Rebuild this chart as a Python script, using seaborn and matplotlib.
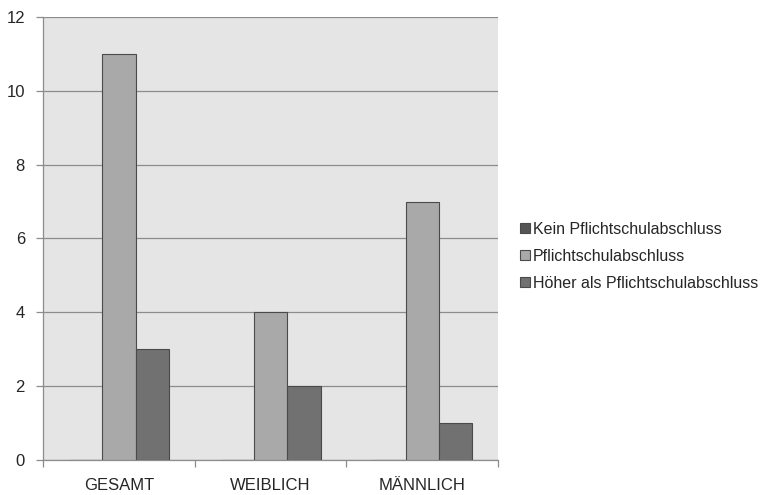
import numpy as np
import pandas as pd
import matplotlib.pyplot as plt
import seaborn as sns

# data
groups = ['GESAMT', 'WEIBLICH', 'MÄNNLICH']
series = ['Kein Pflichtschulabschluss', 'Pflichtschulabschluss', 'Höher als Pflichtschulabschluss']
kein = [0, 0, 0]
pflicht = [11, 4, 7]
hoeher = [3, 2, 1]
yticks = [0, 2, 4, 6, 8, 10, 12]

df = pd.DataFrame({
    'gruppe': groups * 3,
    'abschluss': [series[0]] * 3 + [series[1]] * 3 + [series[2]] * 3,
    'wert': kein + pflicht + hoeher,
})

sns.set_style('white')
plt.rcParams['font.family'] = ['Liberation Sans', 'DejaVu Sans']

fig = plt.figure(figsize=(7.69, 4.95), dpi=100)
ax = fig.add_axes([0.0559, 0.0707, 0.592, 0.895])

colors = ['#555555', '#a9a9a9', '#717171']
sns.barplot(data=df, x='gruppe', y='wert', hue='abschluss', hue_order=series,
            order=groups, palette=colors, width=0.66, edgecolor='#4a4a4a',
            linewidth=0.8, saturation=1, ax=ax, zorder=3)

ax.set_facecolor('#e5e5e5')
ax.set_ylim(0, 12)
ax.set_xlim(-0.5, 2.5)
ax.set_yticks(yticks)
ax.set_yticklabels([str(t) for t in yticks], fontsize=12)
ax.yaxis.grid(True, color='#8c8c8c', linewidth=0.9, zorder=0)
ax.set_axisbelow(True)
ax.tick_params(axis='y', length=5, color='#8c8c8c', width=0.9, pad=8, left=True)
ax.tick_params(axis='x', which='major', length=0, pad=13, labelsize=12)
ax.set_xticks([-0.5, 0.5, 1.5, 2.5], minor=True)
ax.tick_params(axis='x', which='minor', length=5, color='#8c8c8c', width=0.9, bottom=True)
ax.set_xlabel('')
ax.set_ylabel('')

for side in ['top', 'right']:
    ax.spines[side].set_visible(False)
ax.spines['left'].set_color('#8c8c8c')
ax.spines['bottom'].set_color('#8c8c8c')
ax.spines['left'].set_linewidth(0.9)
ax.spines['bottom'].set_linewidth(0.9)

handles, labels = ax.get_legend_handles_labels()
ax.legend(handles, labels, loc='center left', bbox_to_anchor=(1.017, 0.46),
          frameon=False, fontsize=11.5, handlelength=0.6, handleheight=0.6,
          handletextpad=0.2, labelspacing=0.75)

fig.savefig('out.png', dpi=100)
